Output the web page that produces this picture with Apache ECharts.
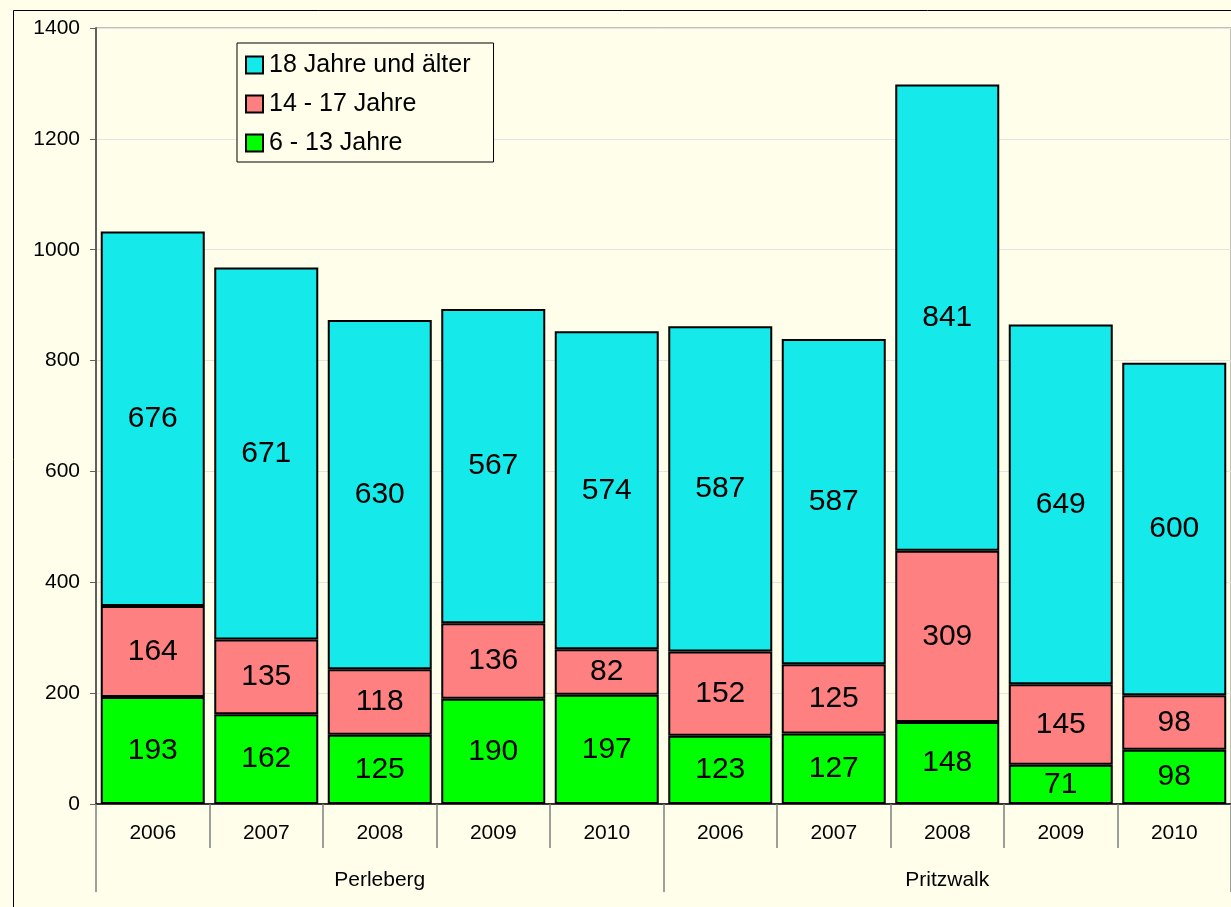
<!DOCTYPE html>
<html>
<head>
<meta charset="utf-8">
<script src="https://cdn.jsdelivr.net/npm/echarts@6/dist/echarts.min.js"></script>
<style>
  html, body { margin: 0; padding: 0; background: #FFFEEA; }
  #chart { width: 1231px; height: 907px; }
</style>
</head>
<body>
<div id="chart"></div>
<script>
const years = ['2006', '2007', '2008', '2009', '2010', '2006', '2007', '2008', '2009', '2010'];
const places = ['Perleberg', 'Pritzwalk'];
const age6to13 = [193, 162, 125, 190, 197, 123, 127, 148, 71, 98];
const age14to17 = [164, 135, 118, 136, 82, 152, 125, 309, 145, 98];
const age18plus = [676, 671, 630, 567, 574, 587, 587, 841, 649, 600];
const yTicks = [0, 200, 400, 600, 800, 1000, 1200, 1400];

const font = "'Liberation Sans', Arial, sans-serif";
const chart = echarts.init(document.getElementById('chart'));

const barLabel = {
  show: true,
  position: 'inside',
  fontSize: 30,
  color: '#000',
  fontFamily: font
};

const makeSeries = (name, data, color) => ({
  name: name,
  type: 'bar',
  stack: 'total',
  data: data,
  barWidth: 104,
  itemStyle: { color: color, borderColor: '#000', borderWidth: 2 },
  label: barLabel
});

chart.setOption({
  backgroundColor: '#FFFEEA',
  animation: false,
  graphic: [{
    type: 'rect',
    left: 11, top: 8,
    shape: { width: 1400, height: 1100 },
    style: { fill: 'none', stroke: '#000', lineWidth: 1 }
  }],
  grid: {
    left: 96, top: 28, width: 1140, height: 776,
    show: true, borderColor: '#808080', borderWidth: 1,
    backgroundColor: 'transparent'
  },
  legend: {
    orient: 'vertical',
    left: 237, top: 43,
    data: ['18 Jahre und älter', '14 - 17 Jahre', '6 - 13 Jahre'],
    backgroundColor: '#FFFEEA',
    borderColor: '#000',
    borderWidth: 1,
    borderRadius: 0,
    padding: [9, 23, 6, 8],
    itemWidth: 17,
    itemHeight: 17,
    itemGap: 13,
    icon: 'rect',
    itemStyle: { borderColor: '#000', borderWidth: 2 },
    textStyle: { fontSize: 25, color: '#000', fontFamily: font, lineHeight: 26, padding: [0, 0, 0, 1] }
  },
  xAxis: [{
    type: 'category',
    data: years,
    position: 'bottom',
    axisLine: { lineStyle: { color: '#000', width: 1.5 } },
    axisTick: { show: true, alignWithLabel: false, interval: 0, length: 44, lineStyle: { color: '#808080', width: 1.5 } },
    axisLabel: { fontSize: 21, color: '#000', margin: 19, fontFamily: font, interval: 0 }
  }, {
    type: 'category',
    data: places,
    position: 'bottom',
    axisLine: { show: false },
    axisTick: { show: true, alignWithLabel: false, interval: 0, length: 88, lineStyle: { color: '#808080', width: 1.5 } },
    axisLabel: { fontSize: 21, color: '#000', margin: 66, fontFamily: font }
  }],
  yAxis: {
    type: 'value',
    min: 0,
    max: 1400,
    interval: 200,
    axisLine: { show: true, lineStyle: { color: '#606060', width: 2 } },
    axisTick: { show: true, length: 6, lineStyle: { color: '#606060' } },
    axisLabel: {
      fontSize: 21, color: '#000', margin: 16, fontFamily: font,
      formatter: v => yTicks.includes(v) ? String(v) : ''
    },
    splitLine: { lineStyle: { color: '#E4E4E4', width: 1 } }
  },
  series: [
    makeSeries('6 - 13 Jahre', age6to13, '#00FF00'),
    makeSeries('14 - 17 Jahre', age14to17, '#FF8080'),
    makeSeries('18 Jahre und älter', age18plus, '#15E9E9')
  ]
});
</script>
</body>
</html>
